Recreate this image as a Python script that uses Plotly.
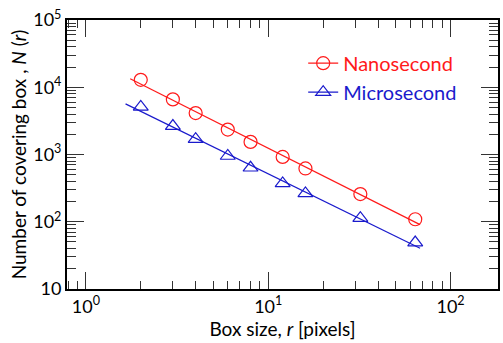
import numpy as np
import plotly.graph_objects as go

# Box-counting data: box size r (pixels) vs number of covering boxes N(r)
box_size = [2, 3, 4, 6, 8, 12, 16, 32, 64]
n_nanosecond = [12900, 6600, 4130, 2350, 1540, 920, 620, 258, 109]
n_microsecond = [5100, 2650, 1690, 950, 635, 372, 264, 113, 49]

# Span of r over which each power-law fit is drawn
fit_span_ns = [1.75, 68]
fit_span_us = [1.65, 68]

RED = "#ff1a1a"
BLUE = "#1a1acc"
FONT = "Lato"


def powerlaw_fit(r, n, span):
    slope, icpt = np.polyfit(np.log10(r), np.log10(n), 1)
    rr = np.array(span, dtype=float)
    return rr, 10 ** (icpt + slope * np.log10(rr))


fig = go.Figure()

for n, span, color, sym, label in [
    (n_nanosecond, fit_span_ns, RED, "circle-open", "Nanosecond"),
    (n_microsecond, fit_span_us, BLUE, "triangle-up-open", "Microsecond"),
]:
    rr, nn = powerlaw_fit(box_size, n, span)
    fig.add_trace(go.Scatter(x=rr, y=nn, mode="lines",
                             line=dict(color=color, width=1.2), showlegend=False))
    fig.add_trace(go.Scatter(x=box_size, y=n, mode="markers",
                             marker=dict(symbol=sym, size=13, color=color,
                                         line=dict(width=1.2, color=color)),
                             showlegend=False))
    # legend entry showing line + marker together
    fig.add_trace(go.Scatter(x=[None], y=[None], mode="lines+markers",
                             line=dict(color=color, width=1.2),
                             marker=dict(symbol=sym, size=13, color=color,
                                         line=dict(width=1.2, color=color)),
                             name=f"<span style='color:{color}'>{label}</span>"))

minor_x = [m * 10 ** k for k in range(-1, 3) for m in range(2, 10)]
minor_y = [m * 10 ** k for k in range(1, 5) for m in range(2, 10)]

axis_common = dict(
    type="log", showline=True, linewidth=2, linecolor="black", mirror="allticks",
    ticks="inside", ticklen=17, tickwidth=1.3, tickcolor="#333",
    showgrid=False, zeroline=False,
    tickfont=dict(family=FONT, size=18, color="black"),
    title_font=dict(family=FONT, size=19, color="black"),
)

fig.update_xaxes(
    **axis_common,
    range=[np.log10(0.788), np.log10(182)],
    tickmode="array", tickvals=[1, 10, 100],
    ticktext=["10<sup>0</sup>", "10<sup>1</sup>", "10<sup>2</sup>"],
    minor=dict(tickmode="array", tickvals=minor_x, ticks="inside", ticklen=8,
               tickwidth=1.3, tickcolor="#333", showgrid=False),
    title_text="Box size, <i>r</i> [pixels]", title_standoff=3,
)
fig.update_yaxes(
    **axis_common,
    range=[1, 5],
    tickmode="array", tickvals=[10, 100, 1000, 10000, 100000],
    ticktext=["10", "10<sup>2</sup>", "10<sup>3</sup>", "10<sup>4</sup>", "10<sup>5</sup>"],
    minor=dict(tickmode="array", tickvals=minor_y, ticks="inside", ticklen=9,
               tickwidth=1.3, tickcolor="#333", showgrid=False),
    title_text="Number of covering box , <i>N</i> (<i>r</i>)", title_standoff=2,
)

fig.update_layout(
    width=503, height=343,
    margin=dict(l=67, r=3, t=20, b=54),
    paper_bgcolor="white", plot_bgcolor="white",
    font=dict(family=FONT, size=18, color="black"),
    legend=dict(x=0.548, y=0.912, xanchor="left", yanchor="top",
                bgcolor="rgba(0,0,0,0)", font=dict(family=FONT, size=20),
                itemwidth=30, tracegroupgap=0),
)

fig.write_html("out.html")
